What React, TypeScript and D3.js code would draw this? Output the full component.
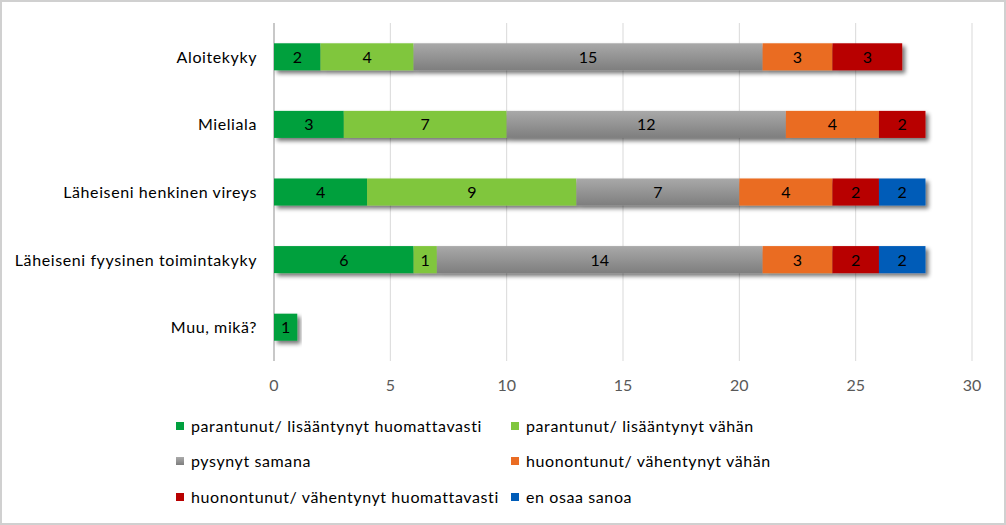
import React from "react";
import * as d3 from "d3";

const categories = ["Aloitekyky", "Mieliala", "Läheiseni henkinen vireys", "Läheiseni fyysinen toimintakyky", "Muu, mikä?"];
const seriesNames = [
  "parantunut/ lisääntynyt huomattavasti",
  "parantunut/ lisääntynyt vähän",
  "pysynyt samana",
  "huonontunut/ vähentynyt vähän",
  "huonontunut/ vähentynyt huomattavasti",
  "en osaa sanoa",
];
const improvedMuch = [2, 3, 4, 6, 1];
const improvedLittle = [4, 7, 9, 1, 0];
const sameLevel = [15, 12, 7, 14, 0];
const worseLittle = [3, 4, 4, 3, 0];
const worseMuch = [3, 2, 2, 2, 0];
const cantSay = [0, 0, 2, 2, 0];
const xTicks = [0, 5, 10, 15, 20, 25, 30];

const seriesValues = [improvedMuch, improvedLittle, sameLevel, worseLittle, worseMuch, cantSay];
const colors = ["#00A03E", "#80C63E", "url(#grayGrad)", "#EA6C23", "#B80000", "#005CB8"];
const legendColors = ["#00A03E", "#80C63E", "url(#grayGradL)", "#EA6C23", "#B80000", "#005CB8"];

const W = 1006, H = 525;
const FONT = "Lato, 'Open Sans', sans-serif";

export default function App() {
  const x = d3.scaleLinear().domain([0, 30]).range([274, 972]);
  const y = d3.scaleBand().domain(categories).range([23, 361]).paddingInner(0.6).paddingOuter(0.3);

  const rows = categories.map((c, i) => {
    let acc = 0;
    return seriesValues.map((s, k) => {
      const v = s[i];
      const seg = { k, v, x0: acc, x1: acc + v };
      acc += v;
      return seg;
    }).filter((s) => s.v > 0);
  });

  const legendPos = [
    [176, 426], [511, 426], [176, 461], [511, 461], [176, 497], [511, 497],
  ];

  return (
    <svg width={W} height={H} style={{ position: "absolute", left: 0, top: 0, background: "#fff" }} fontFamily={FONT}>
      <defs>
        <linearGradient id="grayGrad" x1="0" y1="0" x2="0" y2="1">
          <stop offset="0" stopColor="#A9A9A9" />
          <stop offset="1" stopColor="#7E7E7E" />
        </linearGradient>
        <linearGradient id="grayGradL" x1="0" y1="0" x2="0" y2="1">
          <stop offset="0" stopColor="#ABABAB" />
          <stop offset="1" stopColor="#7E7E7E" />
        </linearGradient>
        <filter id="shadow" x="-10%" y="-30%" width="130%" height="180%">
          <feGaussianBlur in="SourceAlpha" stdDeviation="2" />
          <feOffset dx="3" dy="3" result="b" />
          <feComponentTransfer><feFuncA type="linear" slope="0.55" /></feComponentTransfer>
          <feMerge><feMergeNode /><feMergeNode in="SourceGraphic" /></feMerge>
        </filter>
      </defs>
      <rect x={1} y={1} width={W - 2} height={H - 2} fill="#fff" stroke="#D0D0D0" strokeWidth={2} />
      {xTicks.map((t) => (
        <line key={t} x1={x(t)} x2={x(t)} y1={23} y2={361} stroke={t === 0 ? "#C8C8C8" : "#D9D9D9"} strokeWidth={t === 0 ? 2 : 1} />
      ))}
      {xTicks.map((t) => (
        <text key={"t" + t} x={x(t)} y={391} textAnchor="middle" fontSize={16} fill="#595959">{t}</text>
      ))}
      {categories.map((c, i) => (
        <g key={c}>
          <text x={257} y={y(c)! + y.bandwidth() / 2 + 6} textAnchor="end" fontSize={16} letterSpacing={0.6} fill="#000">{c}</text>
          <g filter="url(#shadow)">
            {rows[i].map((s) => (
              <rect key={s.k} x={x(s.x0)} y={y(c)!} width={x(s.x1) - x(s.x0)} height={y.bandwidth()} fill={colors[s.k]} />
            ))}
          </g>
          {rows[i].map((s) => (
            <text key={"l" + s.k} x={(x(s.x0) + x(s.x1)) / 2} y={y(c)! + y.bandwidth() / 2 + 6} textAnchor="middle" fontSize={16} fill="#000">{s.v}</text>
          ))}
        </g>
      ))}
      {seriesNames.map((n, k) => (
        <g key={n}>
          <rect x={legendPos[k][0]} y={legendPos[k][1] - 4} width={8} height={8} fill={legendColors[k]} />
          <text x={legendPos[k][0] + 15} y={legendPos[k][1] + 6} fontSize={16} letterSpacing={0.6} fill="#000">{n}</text>
        </g>
      ))}
    </svg>
  );
}
